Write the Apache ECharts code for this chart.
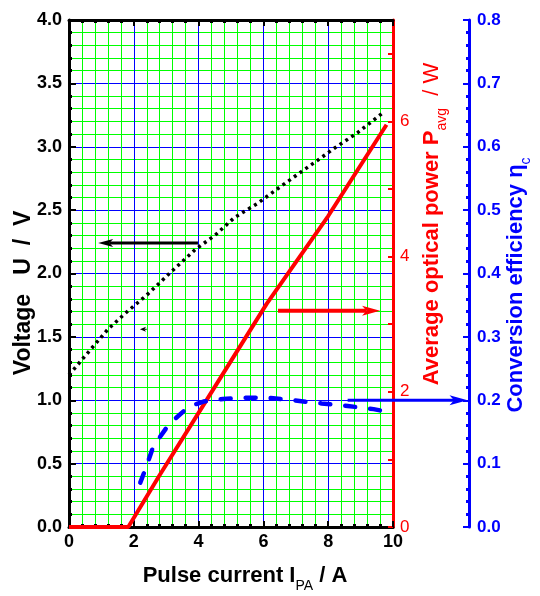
<!DOCTYPE html>
<html><head><meta charset="utf-8">
<script src="https://cdn.jsdelivr.net/npm/echarts@6/dist/echarts.min.js"></script>
<style>html,body{margin:0;padding:0;background:#fff}#c{width:540px;height:596px}</style>
</head><body><div id="c"></div>
<script>
// ---- data ----
const voltageI = [0, 0.3, 0.7, 1.2, 1.8, 2.4, 3.1, 3.9, 4.5, 5.1, 5.8, 6.5, 7.1, 7.6, 8.2, 8.9, 9.65];
const voltageU = [1.20, 1.29, 1.41, 1.56, 1.70, 1.83, 2.00, 2.19, 2.30, 2.44, 2.55, 2.68, 2.79, 2.88, 2.99, 3.11, 3.26];
const powerI = [0, 1.83, 2.8, 4.25, 6.1, 8.0, 9.8];
const powerP = [0, 0, 0.77, 1.88, 3.3, 4.6, 5.95];
const effI = [2.2, 2.35, 2.6, 3.0, 3.3, 3.7, 4.15, 4.75, 5.5, 6.1, 6.9, 7.8, 8.6, 9.4, 9.6];
const effEta = [0.07, 0.09, 0.127, 0.156, 0.172, 0.19, 0.198, 0.202, 0.204, 0.204, 0.200, 0.195, 0.191, 0.186, 0.184];
const xTickValues = [0, 2, 4, 6, 8, 10];
const powerTickLabels = [0, 2, 4, 6];
// annotation arrows: [from, to] in data units of their series
const arrowVoltage = [[3.98, 2.24], [0.9, 2.24]];
const arrowSmall = [[2.4, 1.56], [2.19, 1.56]];
const arrowPower = [[6.45, 3.2], [9.6, 3.2]];
const arrowEff = [[8.6, 0.2], [12.3, 0.2]];

const zip = (a, b) => a.map((v, i) => [v, b[i]]);
const FONT = 'Arial, "Liberation Sans", sans-serif';
const BLUE = '#0000ff', RED = '#ff0000', GREEN = '#00ff00';

const chart = echarts.init(document.getElementById('c'), null, {renderer: 'canvas'});

const baseX = {
  type: 'value', min: 0, max: 10, interval: 2,
  axisLine: {show: true, onZero: false, lineStyle: {color: '#000', width: 3}},
  axisTick: {show: true, inside: true, length: 6, lineStyle: {color: '#000', width: 2}},
  minorTick: {show: true, splitNumber: 5, length: 3, lineStyle: {color: '#000', width: 3}}
};

const option = {
  animation: false,
  backgroundColor: '#fff',
  grid: {left: 69, right: 147, top: 20, bottom: 69, containLabel: false, outerBoundsMode: 'none'},
  xAxis: [
    Object.assign({}, baseX, {
      position: 'bottom',
      axisLabel: {show: true, color: '#000', fontSize: 18, fontWeight: 'bold', fontFamily: FONT, margin: 6,
        formatter: v => xTickValues.includes(v) ? String(v) : ''},
      splitLine: {show: true, lineStyle: {color: BLUE, width: 1}},
      minorSplitLine: {show: true, lineStyle: {color: GREEN, width: 1}}
    }),
    Object.assign({}, baseX, {
      position: 'top',
      axisLabel: {show: false},
      splitLine: {show: false}
    })
  ],
  yAxis: [
    {
      type: 'value', position: 'left', min: 0, max: 4, interval: 0.5,
      axisLine: {show: true, onZero: false, lineStyle: {color: '#000', width: 3}},
      axisTick: {show: true, inside: true, length: 7, lineStyle: {color: '#000', width: 2}},
      minorTick: {show: true, splitNumber: 5, length: 3, lineStyle: {color: '#000', width: 3}},
      axisLabel: {color: '#000', fontSize: 18, fontWeight: 'bold', fontFamily: FONT, margin: 7,
        formatter: v => v.toFixed(1)},
      splitLine: {show: true, lineStyle: {color: BLUE, width: 1}},
      minorSplitLine: {show: true, lineStyle: {color: GREEN, width: 1}}
    },
    {
      type: 'value', position: 'right', min: 0, max: 7.5, interval: 1,
      axisLine: {show: true, onZero: false, lineStyle: {color: RED, width: 3}},
      axisTick: {show: true, inside: true, length: 5, lineStyle: {color: RED, width: 2}},
      axisLabel: {color: RED, fontSize: 17, fontFamily: FONT, margin: 7, showMaxLabel: false,
        formatter: v => powerTickLabels.includes(v) ? String(v) : ''},
      splitLine: {show: false}
    },
    {
      type: 'value', position: 'right', offset: 76, min: 0, max: 0.8, interval: 0.1,
      axisLine: {show: true, onZero: false, lineStyle: {color: BLUE, width: 3}},
      axisTick: {show: true, inside: true, length: 6, lineStyle: {color: BLUE, width: 2}},
      minorTick: {show: true, splitNumber: 5, length: 3, lineStyle: {color: BLUE, width: 3}},
      axisLabel: {color: BLUE, fontSize: 17, fontWeight: 'bold', fontFamily: FONT, margin: 8,
        formatter: v => v.toFixed(1)},
      splitLine: {show: false}
    }
  ],
  series: [
    {
      name: 'Voltage', type: 'line', xAxisIndex: 0, yAxisIndex: 0,
      data: zip(voltageI, voltageU), showSymbol: false, symbol: 'none',
      lineStyle: {color: '#000', width: 3.5, type: [3, 4]}, z: 5
    },
    {
      name: 'Power', type: 'line', xAxisIndex: 0, yAxisIndex: 1,
      data: zip(powerI, powerP), showSymbol: false, symbol: 'none',
      lineStyle: {color: RED, width: 4}, z: 5
    },
    {
      name: 'Efficiency', type: 'line', xAxisIndex: 0, yAxisIndex: 2,
      data: zip(effI, effEta), showSymbol: false, symbol: 'none',
      lineStyle: {color: BLUE, width: 4.5, type: [10, 15], cap: 'round'}, z: 5
    }
  ]
};
chart.setOption(option);

function arrowGraphic(seriesIndex, pts, color, width, headLen, headHalf) {
  const a = chart.convertToPixel({seriesIndex}, pts[0]);
  const b = chart.convertToPixel({seriesIndex}, pts[1]);
  const dx = b[0] - a[0], dy = b[1] - a[1];
  const len = Math.sqrt(dx * dx + dy * dy) || 1;
  const ux = dx / len, uy = dy / len;
  const bx = b[0] - ux * headLen, by = b[1] - uy * headLen;
  const nx = -uy, ny = ux;
  const notch = headLen * 0.25;
  return [
    {type: 'line', z: 50, shape: {x1: a[0], y1: a[1], x2: bx + ux * notch, y2: by + uy * notch},
      style: {stroke: color, lineWidth: width}},
    {type: 'polygon', z: 51, shape: {points: [
      [b[0], b[1]],
      [bx + nx * headHalf, by + ny * headHalf],
      [bx + ux * notch, by + uy * notch],
      [bx - nx * headHalf, by - ny * headHalf]
    ]}, style: {fill: color}}
  ];
}

const subRich = (color, size, bold) => ({
  m: {fontSize: size, fontWeight: bold ? 'bold' : 'normal', fontFamily: FONT, fill: color, lineHeight: 26},
  n: {fontSize: size, fontWeight: 'normal', fontFamily: FONT, fill: color, lineHeight: 26},
  s: {fontSize: Math.round(size * 0.62), fontWeight: 'normal', fontFamily: FONT, fill: color, lineHeight: 14, padding: [20, 0, 0, 0]}
});

const graphics = [].concat(
  arrowGraphic(0, arrowVoltage, '#000', 3, 15, 4),
  arrowGraphic(0, arrowSmall, '#000', 1, 6, 2.5),
  arrowGraphic(1, arrowPower, RED, 4, 18, 5),
  arrowGraphic(2, arrowEff, BLUE, 3, 18, 5),
  [
    {type: 'text', z: 60, x: 245, y: 576, style: {
      text: '{m|Pulse current I}{s|PA}{m| / A}', align: 'center', verticalAlign: 'middle',
      rich: subRich('#000', 22, true)}},
    {type: 'text', z: 60, x: 24, y: 293, rotation: Math.PI / 2, style: {
      text: '{m|Voltage   U  /  V}', align: 'center', verticalAlign: 'middle',
      rich: subRich('#000', 23, true)}},
    {type: 'text', z: 60, x: 432, y: 224, rotation: Math.PI / 2, style: {
      text: '{m|Average optical power P}{s|avg}{n|  / W}', align: 'center', verticalAlign: 'middle',
      rich: subRich(RED, 22, true)}},
    {type: 'text', z: 60, x: 516, y: 285, rotation: Math.PI / 2, style: {
      text: '{m|Conversion efficiency η}{s|c}', align: 'center', verticalAlign: 'middle',
      rich: subRich(BLUE, 22, true)}}
  ]
);
chart.setOption({graphic: graphics});
</script>
</body></html>
